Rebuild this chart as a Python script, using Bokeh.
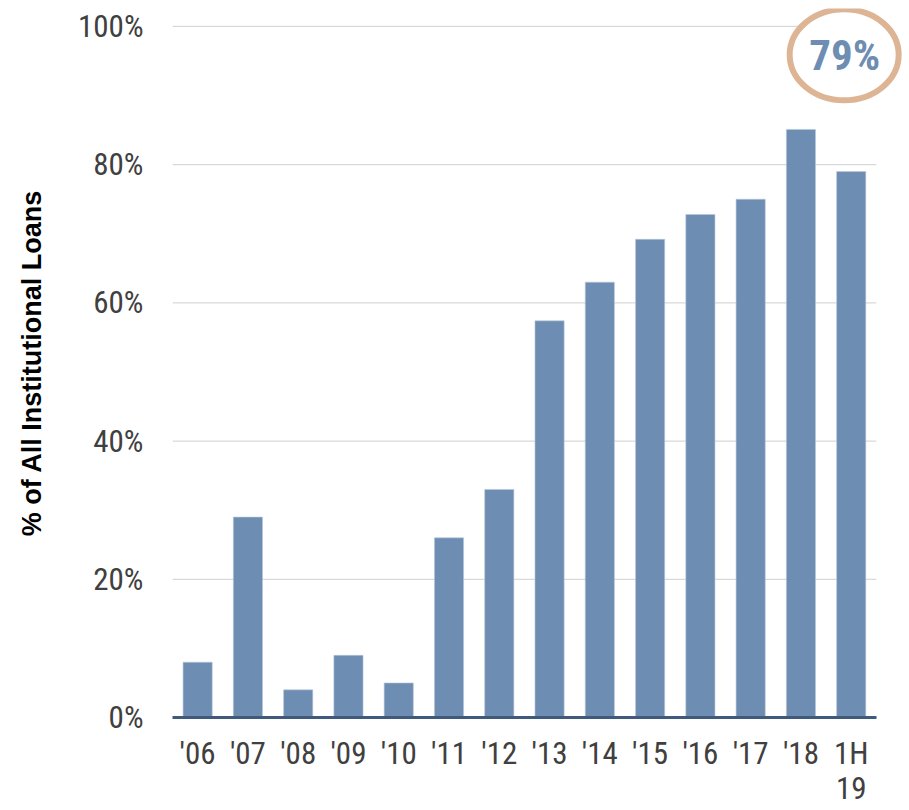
from bokeh.plotting import figure
from bokeh.models import ColumnDataSource, FixedTicker, PrintfTickFormatter, Range1d
from bokeh.core.properties import value
from bokeh.embed import file_html
from bokeh.resources import INLINE

categories = ["'06", "'07", "'08", "'09", "'10", "'11", "'12", "'13", "'14", "'15", "'16", "'17", "'18", "1H\n19"]
shares = [8, 29, 4, 9, 5, 26, 33, 57.4, 63, 69.2, 72.8, 75, 85.1, 79]
y_ticks = [0, 20, 40, 60, 80, 100]
callout_text = "79%"
callout_value = 79

NARROW = "'Liberation Sans Narrow', 'Arial Narrow', 'Roboto Condensed', sans-serif"

positions = list(range(len(categories)))
src = ColumnDataSource(dict(x=positions, top=shares, label=categories))

p = figure(width=903, height=810, output_backend="svg", toolbar_location=None,
           x_range=Range1d(-0.5, 14.04), y_range=Range1d(0, 102.6),
           min_border_left=172, min_border_right=0, min_border_top=8, min_border_bottom=92)
p.outline_line_color = None
p.xgrid.visible = False
p.ygrid.visible = False
p.background_fill_color = "white"

# horizontal gridlines limited to the bar area
n = len(categories)
p.segment(x0=[-0.5] * len(y_ticks), x1=[n - 0.5] * len(y_ticks), y0=y_ticks, y1=y_ticks,
          line_color="#D9D9D9", line_width=1.2)

p.vbar(x="x", top="top", width=0.58, source=src, fill_color="#6E8DB2", line_color="#B9C8DB", line_width=0.6)

# callout ellipse over the last bar region
p.ellipse(x=[n - 1.14], y=[95.9], width=[109], height=[91], width_units="screen", height_units="screen",
          fill_color="white", line_color="#DDB494", line_width=6)
p.text(x=[n - 1.13], y=[95.9], text=[callout_text], text_align="center", text_baseline="middle",
       text_font=value(NARROW), text_font_style="bold", text_font_size="43px", text_color="#6E8DB2")

# x axis
xa = p.xaxis[0]
xa.ticker = FixedTicker(ticks=positions)
xa.major_label_overrides = {i: c for i, c in enumerate(categories)}
xa.bounds = (-0.5, n - 0.5)
xa.axis_line_color = "#3F5A7D"
xa.axis_line_width = 3
xa.major_tick_line_color = None
xa.minor_tick_line_color = None
xa.major_tick_out = 0
xa.major_label_standoff = 17
xa.major_label_text_font = NARROW
xa.major_label_text_font_size = "31px"
xa.major_label_text_line_height = 0.97
xa.major_label_text_color = "#404040"

# y axis
ya = p.yaxis[0]
ya.ticker = FixedTicker(ticks=y_ticks)
ya.formatter = PrintfTickFormatter(format="%d%%")
ya.axis_line_color = None
ya.major_tick_line_color = None
ya.minor_tick_line_color = None
ya.major_tick_out = 0
ya.major_label_standoff = 29
ya.major_label_text_font = NARROW
ya.major_label_text_font_size = "31px"
ya.major_label_text_color = "#404040"
ya.axis_label = "% of All Institutional Loans"
ya.axis_label_text_font = "Liberation Sans"
ya.axis_label_text_font_style = "bold"
ya.axis_label_text_font_size = "27px"
ya.axis_label_text_color = "#000000"
ya.axis_label_standoff = 28

open("out.html", "w").write(file_html(p, INLINE))
